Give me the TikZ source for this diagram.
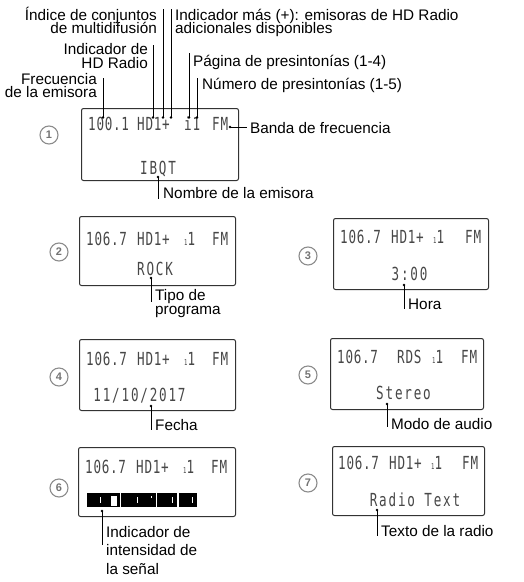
\documentclass[tikz,border=0pt]{standalone}
\usepackage{fontspec}
\setmainfont{Liberation Sans}
\newfontfamily\lcdfont[FakeStretch=0.7,LetterSpace=10]{DejaVu Sans Mono}
\newfontfamily\lcdtop[FakeStretch=0.7,LetterSpace=4]{DejaVu Sans Mono}
\newcommand\rlines[2]{\vtop{\baselineskip=#1\lineskiplimit=-\maxdimen\halign{\hfil##\cr#2\crcr}}}
\newcommand\llines[2]{\vtop{\baselineskip=#1\lineskiplimit=-\maxdimen\halign{##\hfil\cr#2\crcr}}}
\newcommand\presm{{\fontsize{8}{8}\selectfont 1}}
\tikzset{
 lab/.style={inner sep=0pt, font=\fontsize{15.3}{15.3}\selectfont},
 lcd/.style={inner sep=0pt, anchor=base west, text=black!72, font=\lcdtop\fontsize{18}{18}\selectfont},
 lcdb/.style={inner sep=0pt, anchor=base, text=black!72, font=\lcdfont\fontsize{18}{18}\selectfont},
 scr/.style={draw=black!80, line width=1pt, rounded corners=2pt, inner sep=0pt},
 num/.style={circle, draw=black!45, line width=1.1pt, minimum size=18pt, inner sep=0pt, text=black!55, font=\bfseries\fontsize{11}{11}\selectfont},
 lead/.style={line width=0.7pt, black},
 pdot/.style={circle, fill=black, inner sep=0pt, minimum size=2.8pt},
}
\begin{document}
\begin{tikzpicture}[x=1pt,y=-1pt]
\useasboundingbox (0,0) rectangle (524,582);
% ---------- Screen 1 ----------
\node[scr, anchor=north west, minimum width=157pt, minimum height=72pt] (b1) at (81,108) {};
\node[num] (c1) at (49,135) {1};
\node[lcd] (f1) at (88,130) {100.1};
\node[lcd] (h1) at (137,130) {HD1+};
\node[lcd] (p1) at (184,130) {i1};
\node[lcd] (m1) at (212,130) {FM};
\node[lcdb] (t1) at (158,174) {IBQT};
% leaders screen 1
\node[pdot] (dFr) at (103,117.5) {};
\node[pdot] (dHD) at (153,117.5) {};
\node[pdot] (dIx) at (163,117.5) {};
\node[pdot] (dMs) at (171,117.5) {};
\node[pdot] (dPg) at (189,117.5) {};
\node[pdot] (dNu) at (197,117.5) {};
\node[pdot] (dBa) at (230,127) {};
\node[pdot] (dNo) at (158,177) {};
\coordinate (eFr) at (103,78);
\coordinate (eHD) at (153,45);
\coordinate (eIx) at (163,9);
\coordinate (eMs) at (171,9);
\coordinate (ePg) at (189,53);
\coordinate (eNu) at (197,78);
\coordinate (eBa) at (247,127);
\coordinate (eNo) at (158,199);
\foreach \n in {Fr,HD,Ix,Ms,Pg,Nu,Ba,No} \draw[lead] (d\n.center) -- (e\n);
\node[lab, anchor=base east] (lIx) at (157,20) {\rlines{13pt}{Índice de conjuntos\cr de multidifusión}};
\node[lab, anchor=base west] (lMs) at (175,20) {\llines{13pt}{Indicador más (+): emisoras de HD Radio\cr adicionales disponibles}};
\node[lab, anchor=base east] (lHD) at (148,54.5) {\rlines{14pt}{Indicador de\cr HD Radio}};
\node[lab, anchor=base west] (lPg) at (193,66) {Página de presintonías (1-4)};
\node[lab, anchor=base west] (lNu) at (202,89.5) {Número de presintonías (1-5)};
\node[lab, anchor=base east] (lFr) at (97,84) {\rlines{13pt}{Frecuencia\cr de la emisora}};
\node[lab, anchor=base west] (lBa) at (250,133) {Banda de frecuencia};
\node[lab, anchor=base west] (lNo) at (163,198.5) {Nombre de la emisora};
% ---------- Screen 2 ----------
\node[scr, anchor=north west, minimum width=156pt, minimum height=69pt] (b2) at (79,216) {};
\node[num] (c2) at (59,252) {2};
\node[lcd] (f2) at (86,245) {106.7};
\node[lcd] (h2) at (137,245) {HD1+};
\node[lcd] (p2) at (184,245) {\presm 1};
\node[lcd] (m2) at (212,245) {FM};
\node[lcdb] (t2) at (155,275) {ROCK};
\node[pdot] (d2) at (151,278) {};
\coordinate (e2) at (151,302);
\draw[lead] (d2.center) -- (e2);
\node[lab, anchor=base west] (l2) at (155,300.5) {\llines{14pt}{Tipo de\cr programa}};
% ---------- Screen 3 ----------
\node[scr, anchor=north west, minimum width=155pt, minimum height=71pt] (b3) at (333,218) {};
\node[num] (c3) at (308,256) {3};
\node[lcd] (f3) at (340,243.5) {106.7};
\node[lcd] (h3) at (391,243.5) {HD1+};
\node[lcd] (p3) at (433,243.5) {\presm 1};
\node[lcd] (m3) at (465,243.5) {FM};
\node[lcdb] (t3) at (409.5,280.5) {3:00};
\node[pdot] (d3) at (404,285) {};
\coordinate (e3) at (404,309);
\draw[lead] (d3.center) -- (e3);
\node[lab, anchor=base west] (l3) at (408,309) {Hora};
% ---------- Screen 4 ----------
\node[scr, anchor=north west, minimum width=156pt, minimum height=71pt] (b4) at (79,339) {};
\node[num] (c4) at (59,377) {4};
\node[lcd] (f4) at (86,365) {106.7};
\node[lcd] (h4) at (137,365) {HD1+};
\node[lcd] (p4) at (184,365) {\presm 1};
\node[lcd] (m4) at (212,365) {FM};
\node[lcdb] (t4) at (139.5,401.5) {11/10/2017};
\node[pdot] (d4) at (151,406) {};
\coordinate (e4) at (151,430);
\draw[lead] (d4.center) -- (e4);
\node[lab, anchor=base west] (l4) at (155,430) {Fecha};
% ---------- Screen 5 ----------
\node[scr, anchor=north west, minimum width=153pt, minimum height=71pt] (b5) at (330,338) {};
\node[num] (c5) at (308,375) {5};
\node[lcd] (f5) at (337,363.5) {106.7};
\node[lcd] (h5) at (397,363.5) {RDS};
\node[lcd] (p5) at (432,363.5) {\presm 1};
\node[lcd] (m5) at (461,363.5) {FM};
\node[lcdb] (t5) at (403.5,399.5) {Stereo};
\node[pdot] (d5) at (387,404) {};
\coordinate (e5) at (387,427);
\draw[lead] (d5.center) -- (e5);
\node[lab, anchor=base west] (l5) at (391,429) {Modo de audio};
% ---------- Screen 6 ----------
\node[scr, anchor=north west, minimum width=157pt, minimum height=69pt] (b6) at (78,447) {};
\node[num] (c6) at (59,488) {6};
\node[lcd] (f6) at (85,473.5) {106.7};
\node[lcd] (h6) at (136,473.5) {HD1+};
\node[lcd] (p6) at (183,473.5) {\presm 1};
\node[lcd] (m6) at (211,473.5) {FM};
\fill[black] (87,493) rectangle (197,507);
\fill[white] (119.5,493) rectangle (120.7,507);
\fill[white] (155.5,493) rectangle (156.7,507);
\fill[white] (177.3,493) rectangle (178.5,507);
\fill[white] (111,495.5) rectangle (117,505.5);
\foreach \tx in {100,137,171.5,191.5} \fill[white] (\tx,497) rectangle (\tx+1.2,503);
\fill[white] (150.7,495.5) rectangle (151.9,498);
\node[pdot] (d6) at (102,511) {};
\coordinate (e6) at (102,545);
\draw[lead] (d6.center) -- (e6);
\node[lab, anchor=base west] (l6) at (106,537) {\llines{18.5pt}{Indicador de\cr intensidad de\cr la señal}};
% ---------- Screen 7 ----------
\node[scr, anchor=north west, minimum width=152pt, minimum height=69pt] (b7) at (332,446) {};
\node[num] (c7) at (308,483) {7};
\node[lcd] (f7) at (338,469.5) {106.7};
\node[lcd] (h7) at (389,469.5) {HD1+};
\node[lcd] (p7) at (431,469.5) {\presm 1};
\node[lcd] (m7) at (462,469.5) {FM};
\node[lcdb] (t7) at (415,506.5) {Radio Text};
\node[pdot] (d7) at (377,510) {};
\coordinate (e7) at (377,536);
\draw[lead] (d7.center) -- (e7);
\node[lab, anchor=base west] (l7) at (381,536) {Texto de la radio};
\end{tikzpicture}
\end{document}
